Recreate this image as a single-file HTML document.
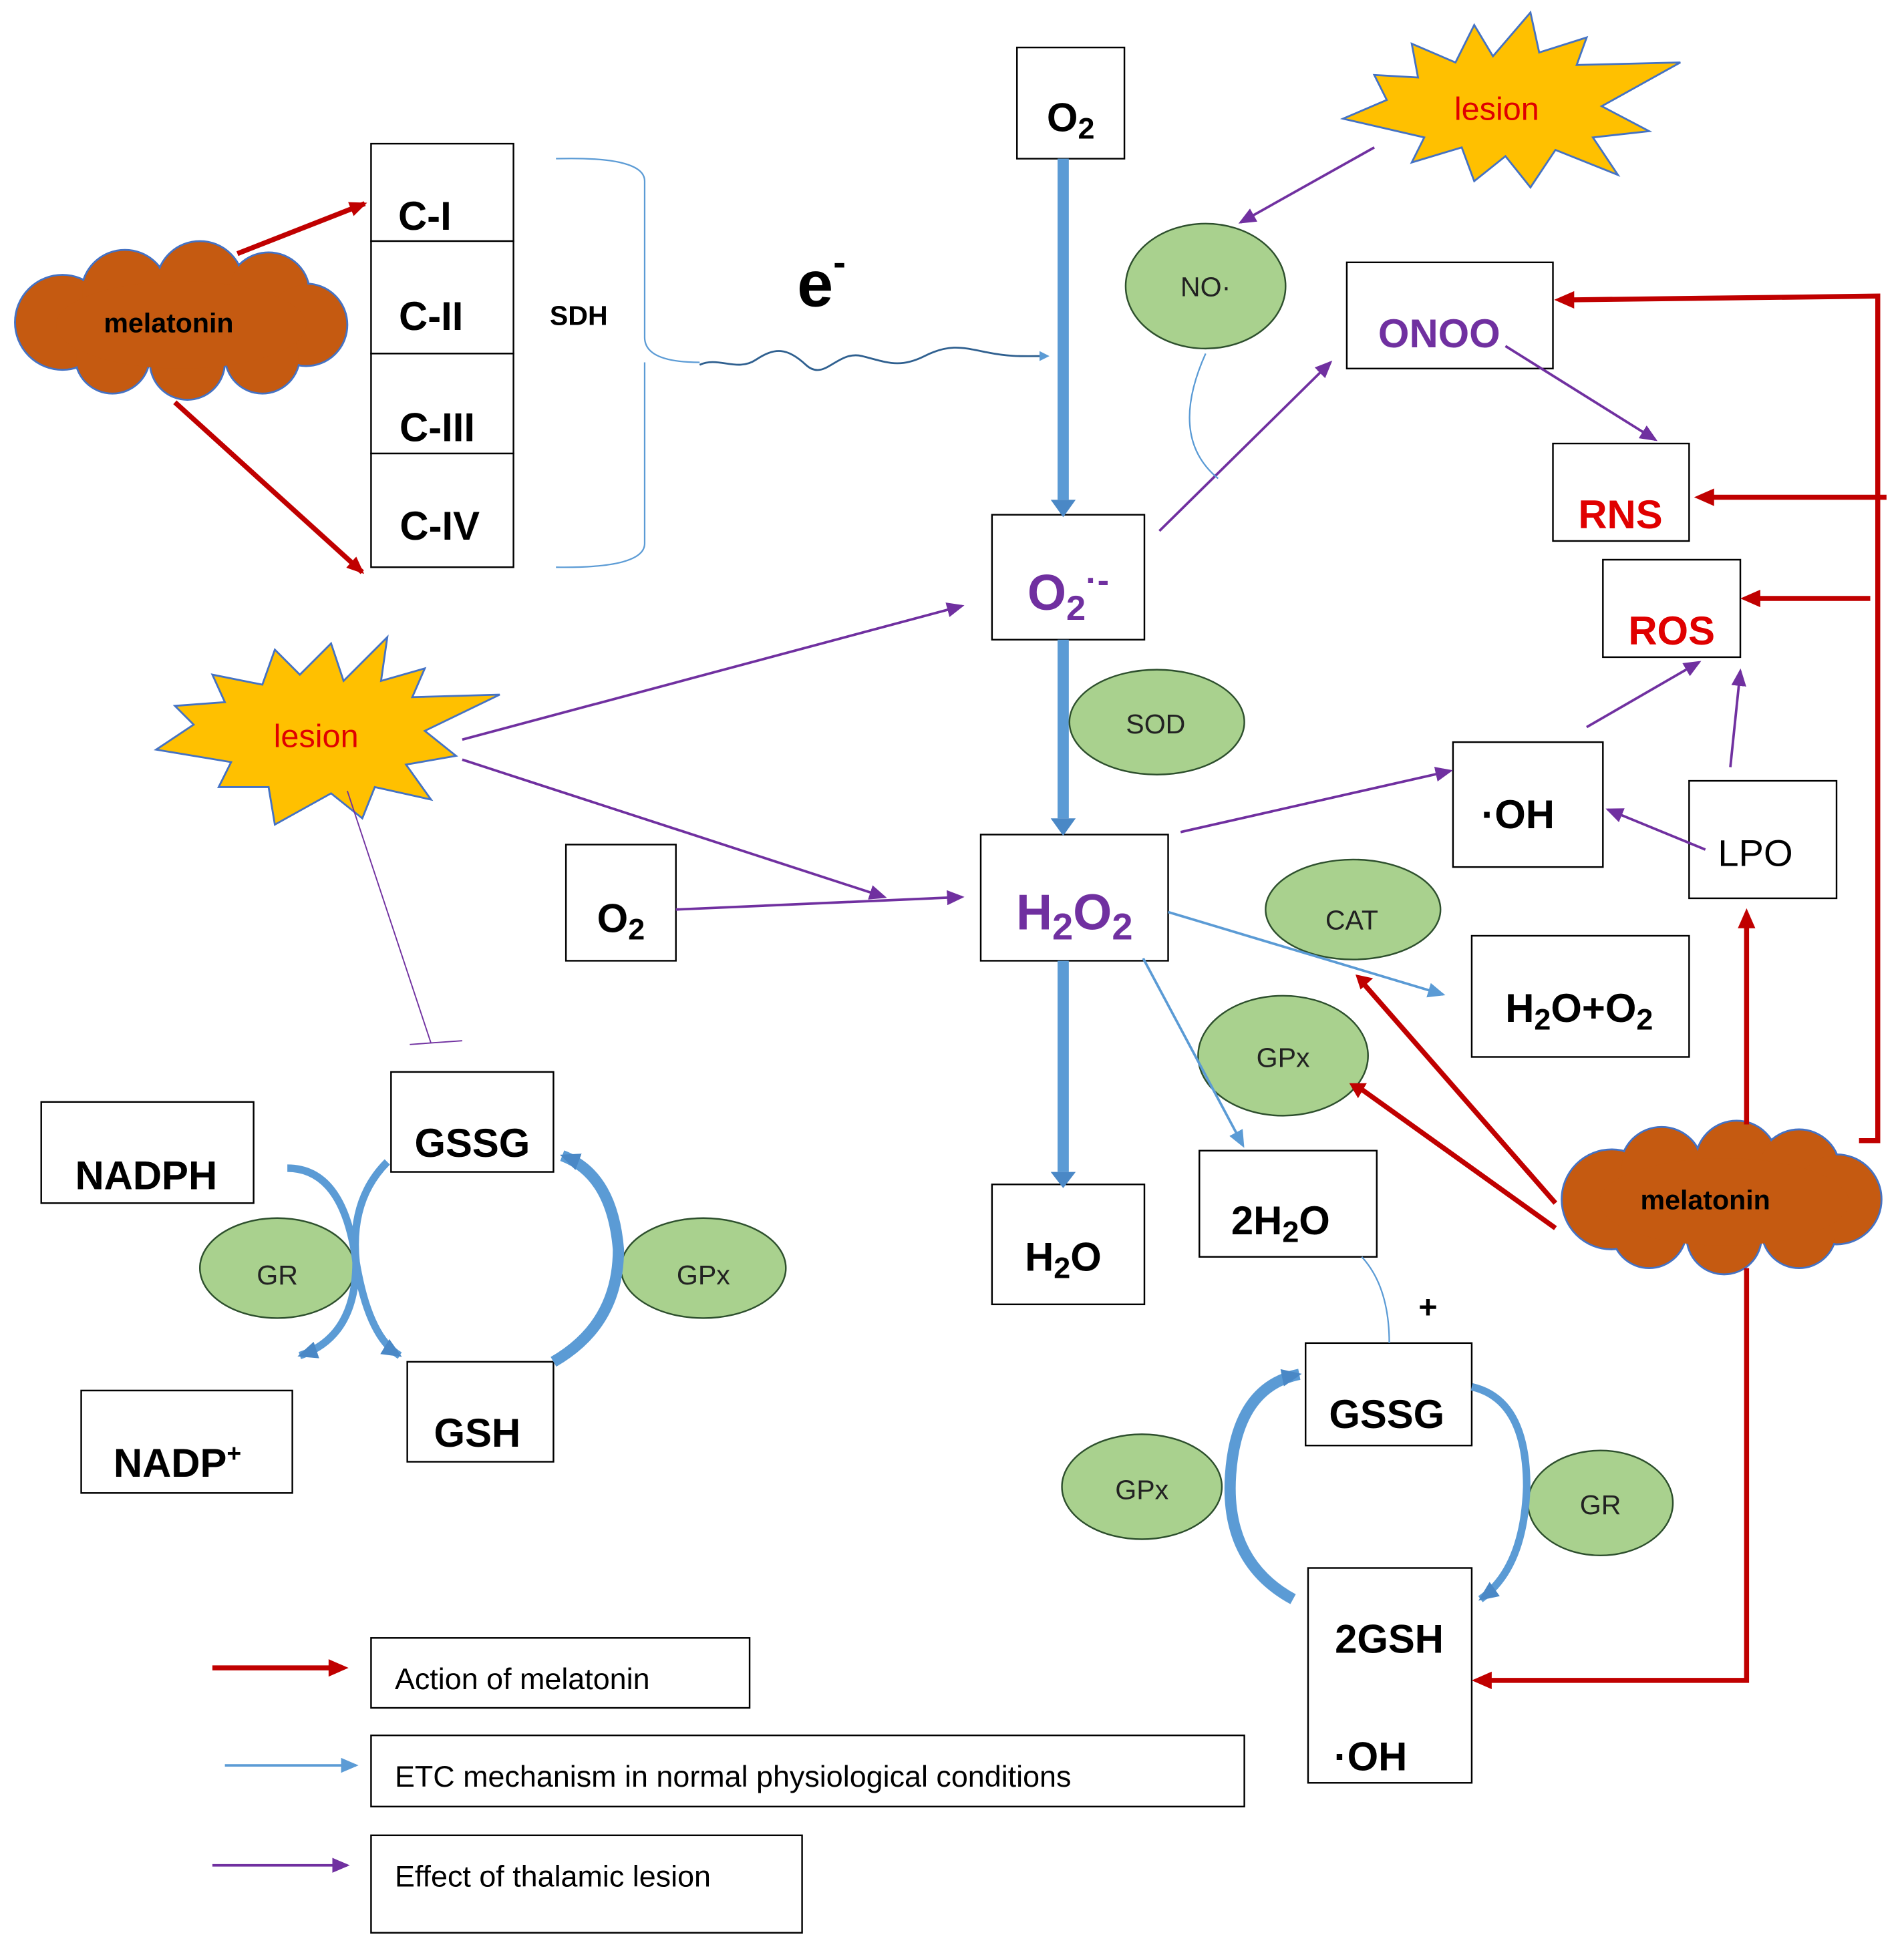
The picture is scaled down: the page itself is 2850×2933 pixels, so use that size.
<!DOCTYPE html>
<html><head><meta charset="utf-8"><style>html,body{margin:0;padding:0;background:#fff}svg{display:block}
text{font-family:"Liberation Sans",sans-serif}</style></head><body>
<svg width="2850" height="2933" viewBox="0 0 1524 1568" preserveAspectRatio="none" xmlns="http://www.w3.org/2000/svg">
<defs>
<marker id="ab" markerWidth="8" markerHeight="8" refX="6" refY="4" orient="auto" markerUnits="userSpaceOnUse"><path d="M0,0 L8,4 L0,8z" fill="#5b9bd5"/></marker>
<marker id="abig" markerWidth="16" markerHeight="14" refX="14" refY="7" orient="auto" markerUnits="userSpaceOnUse"><path d="M0,0 L16,7 L0,14z" fill="#4a88c6"/></marker>
<marker id="ap" markerWidth="14" markerHeight="12" refX="12" refY="6" orient="auto" markerUnits="userSpaceOnUse"><path d="M0,0 L14,6 L0,12z" fill="#7030a0"/></marker>
<marker id="ar" markerWidth="14" markerHeight="12" refX="12" refY="6" orient="auto" markerUnits="userSpaceOnUse"><path d="M0,0 L14,6 L0,12z" fill="#c00000"/></marker>
<marker id="abl" markerWidth="14" markerHeight="12" refX="12" refY="6" orient="auto" markerUnits="userSpaceOnUse"><path d="M0,0 L14,6 L0,12z" fill="#5b9bd5"/></marker>
</defs>
<g fill="#fff" stroke="#000" stroke-width="1.3">
<rect x="814" y="38" width="86" height="89"/>
<rect x="297" y="115" width="114" height="78"/><rect x="297" y="193" width="114" height="90"/>
<rect x="297" y="283" width="114" height="80"/><rect x="297" y="363" width="114" height="91"/>
<rect x="794" y="412" width="122" height="100"/>
<rect x="1078" y="210" width="165" height="85"/>
<rect x="1243" y="355" width="109" height="78"/>
<rect x="1283" y="448" width="110" height="78"/>
<rect x="785" y="668" width="150" height="101"/>
<rect x="453" y="676" width="88" height="93"/>
<rect x="1163" y="594" width="120" height="100"/>
<rect x="1352" y="625" width="118" height="94"/>
<rect x="1178" y="749" width="174" height="97"/>
<rect x="960" y="921" width="142" height="85"/>
<rect x="794" y="948" width="122" height="96"/>
<rect x="1045" y="1075" width="133" height="82"/>
<rect x="1047" y="1255" width="131" height="172"/>
<rect x="33" y="882" width="170" height="81"/>
<rect x="313" y="858" width="130" height="80"/>
<rect x="326" y="1090" width="117" height="80"/>
<rect x="65" y="1113" width="169" height="82"/>
<rect x="297" y="1311" width="303" height="56"/>
<rect x="297" y="1389" width="699" height="57"/>
<rect x="297" y="1469" width="345" height="78"/>
</g>
<!-- brace -->
<path d="M445,127 Q516,125 516,145 L516,270 Q516,290 560,290 M516,290 Q516,310 516,320 L516,435 Q516,455 445,454" fill="none" stroke="#5b9bd5" stroke-width="1.2"/>
<path d="M560,292 C575,285 590,298 605,288 S630,278 645,292 S670,280 690,285 S720,295 740,285 S770,278 790,282 S820,285 838,285" fill="none" stroke="#2e5f8f" stroke-width="1.5" marker-end="url(#ab)"/>
<!-- vertical blue arrows -->
<g stroke="#5b9bd5" stroke-width="9" fill="none">
<line x1="851" y1="127" x2="851" y2="400"/><line x1="851" y1="512" x2="851" y2="655"/><line x1="851" y1="769" x2="851" y2="938"/></g>
<g fill="#4a88c6"><path d="M841,400 L861,400 L851,414z"/><path d="M841,655 L861,655 L851,669z"/><path d="M841,938 L861,938 L851,951z"/></g>
<!-- ellipses -->
<g fill="#a9d18e" stroke="#2d4f2d" stroke-width="1.3">
<ellipse cx="965" cy="229" rx="64" ry="50"/><ellipse cx="926" cy="578" rx="70" ry="42"/>
<ellipse cx="1083" cy="728" rx="70" ry="40"/><ellipse cx="1027" cy="845" rx="68" ry="48"/>
<ellipse cx="914" cy="1190" rx="64" ry="42"/><ellipse cx="1281" cy="1203" rx="58" ry="42"/>
<ellipse cx="222" cy="1015" rx="62" ry="40"/><ellipse cx="563" cy="1015" rx="66" ry="40"/>
</g>
<!-- stars -->
<g fill="#ffc000" stroke="#4472c4" stroke-width="1.5">
<polygon points="1075,95 1110,80 1100,60 1135,62 1130,35 1165,50 1180,20 1195,45 1225,10 1232,42 1270,30 1262,52 1345,50 1282,85 1320,105 1275,110 1295,140 1245,120 1225,150 1205,125 1180,145 1170,118 1130,130 1140,110"/>
<polygon points="125,600 155,580 140,565 180,562 170,540 210,548 220,520 240,540 265,515 275,545 310,510 305,545 340,535 330,558 400,556 340,585 365,605 325,612 345,640 300,630 290,655 265,635 220,660 215,630 175,630 185,610"/>
</g>
<!-- clouds -->
<g fill="#c55a11" stroke="#4472c4" stroke-width="1.5">
<circle cx="50" cy="258" r="38"/><circle cx="100" cy="235" r="35"/><circle cx="160" cy="228" r="35"/><circle cx="215" cy="235" r="33"/><circle cx="245" cy="260" r="33"/><circle cx="210" cy="285" r="30"/><circle cx="150" cy="290" r="30"/><circle cx="90" cy="285" r="30"/>
<circle cx="1290" cy="960" r="40"/><circle cx="1330" cy="935" r="33"/><circle cx="1390" cy="930" r="33"/><circle cx="1440" cy="937" r="33"/><circle cx="1470" cy="960" r="36"/><circle cx="1440" cy="985" r="30"/><circle cx="1380" cy="990" r="30"/><circle cx="1320" cy="985" r="30"/>
</g>
<g fill="#c55a11">
<circle cx="50" cy="258" r="37"/><circle cx="100" cy="235" r="34"/><circle cx="160" cy="228" r="34"/><circle cx="215" cy="235" r="32"/><circle cx="245" cy="260" r="32"/><circle cx="210" cy="285" r="29"/><circle cx="150" cy="290" r="29"/><circle cx="90" cy="285" r="29"/><ellipse cx="145" cy="260" rx="100" ry="35"/>
<circle cx="1290" cy="960" r="39"/><circle cx="1330" cy="935" r="32"/><circle cx="1390" cy="930" r="32"/><circle cx="1440" cy="937" r="32"/><circle cx="1470" cy="960" r="35"/><circle cx="1440" cy="985" r="29"/><circle cx="1380" cy="990" r="29"/><circle cx="1320" cy="985" r="29"/><ellipse cx="1380" cy="962" rx="100" ry="35"/>
</g>
<!-- purple arrows -->
<g stroke="#7030a0" stroke-width="2" fill="none" marker-end="url(#ap)">
<line x1="1100" y1="118" x2="993" y2="178"/>
<line x1="928" y1="425" x2="1065" y2="290"/>
<line x1="1205" y1="277" x2="1325" y2="352"/>
<line x1="370" y1="592" x2="770" y2="485"/>
<line x1="370" y1="608" x2="708" y2="718"/>
<line x1="541" y1="728" x2="770" y2="718"/>
<line x1="945" y1="666" x2="1161" y2="617"/>
<line x1="1365" y1="680" x2="1287" y2="648"/>
<line x1="1385" y1="614" x2="1393" y2="537"/>
<line x1="1270" y1="582" x2="1360" y2="530"/>
<line x1="170" y1="1493" x2="278" y2="1493"/>
</g>
<line x1="278" y1="633" x2="345" y2="835" stroke="#7030a0" stroke-width="1"/>
<line x1="328" y1="836" x2="370" y2="833" stroke="#7030a0" stroke-width="1"/>
<!-- light blue -->
<path d="M965,283 Q935,350 975,383" fill="none" stroke="#5b9bd5" stroke-width="1.2"/>
<path d="M1090,1006 Q1112,1030 1112,1075" fill="none" stroke="#5b9bd5" stroke-width="1.2"/>
<g stroke="#5b9bd5" stroke-width="2" marker-end="url(#abl)">
<line x1="935" y1="730" x2="1155" y2="796"/><line x1="915" y1="767" x2="995" y2="917"/>
<line x1="180" y1="1413" x2="285" y2="1413"/></g>
<!-- red arrows -->
<g stroke="#c00000" stroke-width="4" fill="none">
<line x1="190" y1="203" x2="292" y2="163" marker-end="url(#ar)"/>
<line x1="140" y1="322" x2="290" y2="458" marker-end="url(#ar)"/>
<polyline points="1488,913 1503,913 1503,237 1258,240"/>
<line x1="1510" y1="398" x2="1368" y2="398"/>
<line x1="1497" y1="479" x2="1405" y2="479"/>
<line x1="1245" y1="963" x2="1092" y2="788"/>
<line x1="1245" y1="983" x2="1090" y2="872"/>
<line x1="1398" y1="900" x2="1398" y2="740"/>
<polyline points="1398,1015 1398,1345 1190,1345"/>
<line x1="170" y1="1335" x2="265" y2="1335"/>
</g>
<g fill="#c00000">
<path d="M1244,240 L1260,233 L1260,247z"/><path d="M1356,398 L1372,391 L1372,405z"/><path d="M1393,479 L1409,472 L1409,486z"/>
<path d="M1085,780 L1099,783 L1089,792z"/><path d="M1080,867 L1094,867 L1087,879z"/><path d="M1398,727 L1391,743 L1405,743z"/>
<path d="M1178,1345 L1194,1338 L1194,1352z"/><path d="M279,1335 L263,1328 L263,1342z"/>
</g>
<!-- cycle arrows -->
<g stroke="#5b9bd5" stroke-width="9" fill="none">
<path d="M230,935 Q275,935 285,1010 Q295,1070 320,1085" stroke-width="6" marker-end="url(#abig)"/>
<path d="M310,930 Q280,960 285,1010 Q285,1070 240,1085" stroke-width="6" marker-end="url(#abig)"/>
<path d="M443,1090 Q495,1060 495,1000 Q490,940 450,925" marker-end="url(#abig)"/>
<path d="M1035,1280 Q980,1250 985,1180 Q990,1110 1040,1100" marker-end="url(#abig)"/>
<path d="M1178,1110 Q1222,1120 1222,1190 Q1220,1255 1185,1280" stroke-width="6" marker-end="url(#abig)"/>
</g>
<!-- texts -->
<g font-weight="bold" font-size="32" text-anchor="middle" fill="#000">
<text x="857" y="105">O<tspan font-size="24" dy="6">2</tspan></text>
<text x="340" y="184">C-I</text><text x="345" y="264">C-II</text><text x="350" y="353">C-III</text><text x="352" y="432">C-IV</text>
<text x="497" y="746">O<tspan font-size="24" dy="6">2</tspan></text>
<text x="1215" y="663">·OH</text>
<text x="1264" y="818">H<tspan font-size="24" dy="6">2</tspan><tspan dy="-6">O+O</tspan><tspan font-size="24" dy="6">2</tspan></text>
<text x="1025" y="988">2H<tspan font-size="24" dy="6">2</tspan><tspan dy="-6">O</tspan></text>
<text x="851" y="1017">H<tspan font-size="24" dy="6">2</tspan><tspan dy="-6">O</tspan></text>
<text x="1110" y="1143">GSSG</text>
<text x="1112" y="1323">2GSH</text><text x="1097" y="1417">·OH</text>
<text x="117" y="952">NADPH</text><text x="378" y="926">GSSG</text><text x="382" y="1158">GSH</text>
<text x="142" y="1182">NADP<tspan font-size="20" dy="-12">+</tspan></text>
<text x="1143" y="1055" font-size="26">+</text>
</g>
<text x="440" y="260" font-size="22" font-weight="bold">SDH</text>
<text x="638" y="245" font-size="52" font-weight="bold">e<tspan font-size="30" dy="-25">-</tspan></text>
<g font-weight="bold" fill="#7030a0" text-anchor="middle">
<text x="855" y="488" font-size="40">O<tspan font-size="28" dy="8">2</tspan><tspan font-size="28" dy="-22">·-</tspan></text>
<text x="1152" y="278" font-size="32">ONOO</text>
<text x="860" y="744" font-size="40">H<tspan font-size="30" dy="8">2</tspan><tspan dy="-8">O</tspan><tspan font-size="30" dy="8">2</tspan></text>
</g>
<g font-weight="bold" fill="#e00000" text-anchor="middle" font-size="32">
<text x="1297" y="423">RNS</text><text x="1338" y="516">ROS</text></g>
<g fill="#e00000" font-size="26" text-anchor="middle"><text x="1198" y="96">lesion</text><text x="253" y="598">lesion</text></g>
<g font-weight="bold" font-size="22" text-anchor="middle"><text x="135" y="266">melatonin</text><text x="1365" y="968">melatonin</text></g>
<g font-size="22" text-anchor="middle" fill="#222">
<text x="965" y="237">NO·</text><text x="925" y="587">SOD</text><text x="1082" y="744">CAT</text><text x="1027" y="854">GPx</text>
<text x="914" y="1200">GPx</text><text x="1281" y="1212">GR</text><text x="222" y="1028">GR</text><text x="563" y="1028">GPx</text>
</g>
<text x="1405" y="693" font-size="30" text-anchor="middle">LPO</text>
<g font-size="24" fill="#000"><text x="316" y="1352">Action of melatonin</text><text x="316" y="1430">ETC mechanism in normal physiological conditions</text><text x="316" y="1510">Effect of thalamic lesion</text></g>
</svg>
</body></html>
